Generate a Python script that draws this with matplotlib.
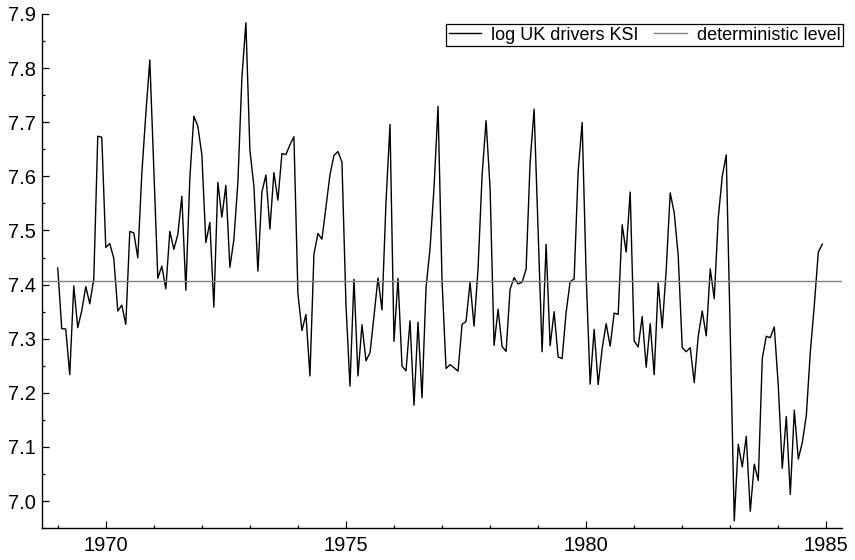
import numpy as np
import matplotlib
matplotlib.use("Agg")
import matplotlib.pyplot as plt
from matplotlib.ticker import MultipleLocator

plt.rcParams['font.family'] = ['Liberation Sans', 'DejaVu Sans']

start_year = 1969
drivers_ksi = [
    1687, 1508, 1507, 1385, 1632, 1511, 1559, 1630, 1579, 1653, 2152, 2148,
    1752, 1765, 1717, 1558, 1575, 1520, 1805, 1800, 1719, 2008, 2242, 2478,
    2030, 1655, 1693, 1623, 1805, 1746, 1795, 1926, 1619, 1992, 2233, 2192,
    2080, 1768, 1835, 1569, 1976, 1853, 1965, 1689, 1778, 1976, 2397, 2654,
    2097, 1963, 1677, 1941, 2003, 1813, 2012, 1912, 2084, 2080, 2118, 2150,
    1608, 1503, 1548, 1382, 1731, 1798, 1779, 1887, 2004, 2077, 2092, 2051,
    1577, 1356, 1652, 1382, 1519, 1421, 1442, 1543, 1656, 1561, 1905, 2199,
    1473, 1655, 1407, 1395, 1530, 1309, 1526, 1327, 1627, 1748, 1958, 2274,
    1648, 1401, 1411, 1403, 1394, 1520, 1528, 1643, 1515, 1685, 2000, 2215,
    1956, 1462, 1563, 1459, 1446, 1622, 1657, 1638, 1643, 1683, 2050, 2262,
    1813, 1445, 1762, 1461, 1556, 1431, 1427, 1554, 1645, 1653, 2016, 2207,
    1665, 1361, 1506, 1360, 1453, 1522, 1460, 1552, 1548, 1827, 1737, 1941,
    1474, 1458, 1542, 1404, 1522, 1385, 1641, 1510, 1681, 1938, 1868, 1726,
    1456, 1445, 1456, 1365, 1487, 1558, 1488, 1684, 1594, 1850, 1998, 2079,
    1494, 1057, 1218, 1168, 1236, 1076, 1174, 1139, 1427, 1487, 1483, 1513,
    1357, 1165, 1282, 1110, 1297, 1185, 1222, 1284, 1444, 1575, 1737, 1763,
]
deterministic_level = 7.4061
xticks = [1970, 1975, 1980, 1985]
yticks = [7.0, 7.1, 7.2, 7.3, 7.4, 7.5, 7.6, 7.7, 7.8, 7.9]

y = np.log(np.array(drivers_ksi, dtype=float))
t = start_year + np.arange(len(y)) / 12.0

fig = plt.figure(figsize=(8.55, 5.6), dpi=100)
ax = fig.add_axes([0.049, 0.057, 0.936, 0.918])

ax.plot(t, y, color='black', lw=1.0, label='log UK drivers KSI')
ax.axhline(deterministic_level, color='#808080', lw=1.0, label='deterministic level')

ax.set_xlim(1968.67, 1985.33)
ax.set_ylim(6.95, 7.9)
ax.set_xticks(xticks)
ax.set_xticklabels([str(v) for v in xticks])
ax.set_yticks(yticks)
ax.set_yticklabels([f"{v:.1f}" for v in yticks])
ax.xaxis.set_minor_locator(MultipleLocator(1))
ax.yaxis.set_minor_locator(MultipleLocator(0.05))

for s in ['top', 'right']:
    ax.spines[s].set_visible(False)
for s in ['left', 'bottom']:
    ax.spines[s].set_linewidth(1.0)

ax.tick_params(which='major', direction='in', length=5, width=0.9, labelsize=14.5)
ax.tick_params(axis='x', which='major', pad=6)
ax.tick_params(axis='y', which='major', pad=4)
ax.tick_params(which='minor', direction='in', length=2.3, width=0.9)

leg = ax.legend(loc='upper right', ncol=2, fontsize=13, frameon=True, fancybox=False,
                edgecolor='black', framealpha=1, borderpad=0.15, handlelength=1.78,
                columnspacing=0.9, handletextpad=0.55, borderaxespad=0,
                bbox_to_anchor=(843 / 855, 1 - 24 / 560),
                bbox_transform=fig.transFigure)
leg.get_frame().set_linewidth(0.9)

fig.savefig('out.png', dpi=100)
